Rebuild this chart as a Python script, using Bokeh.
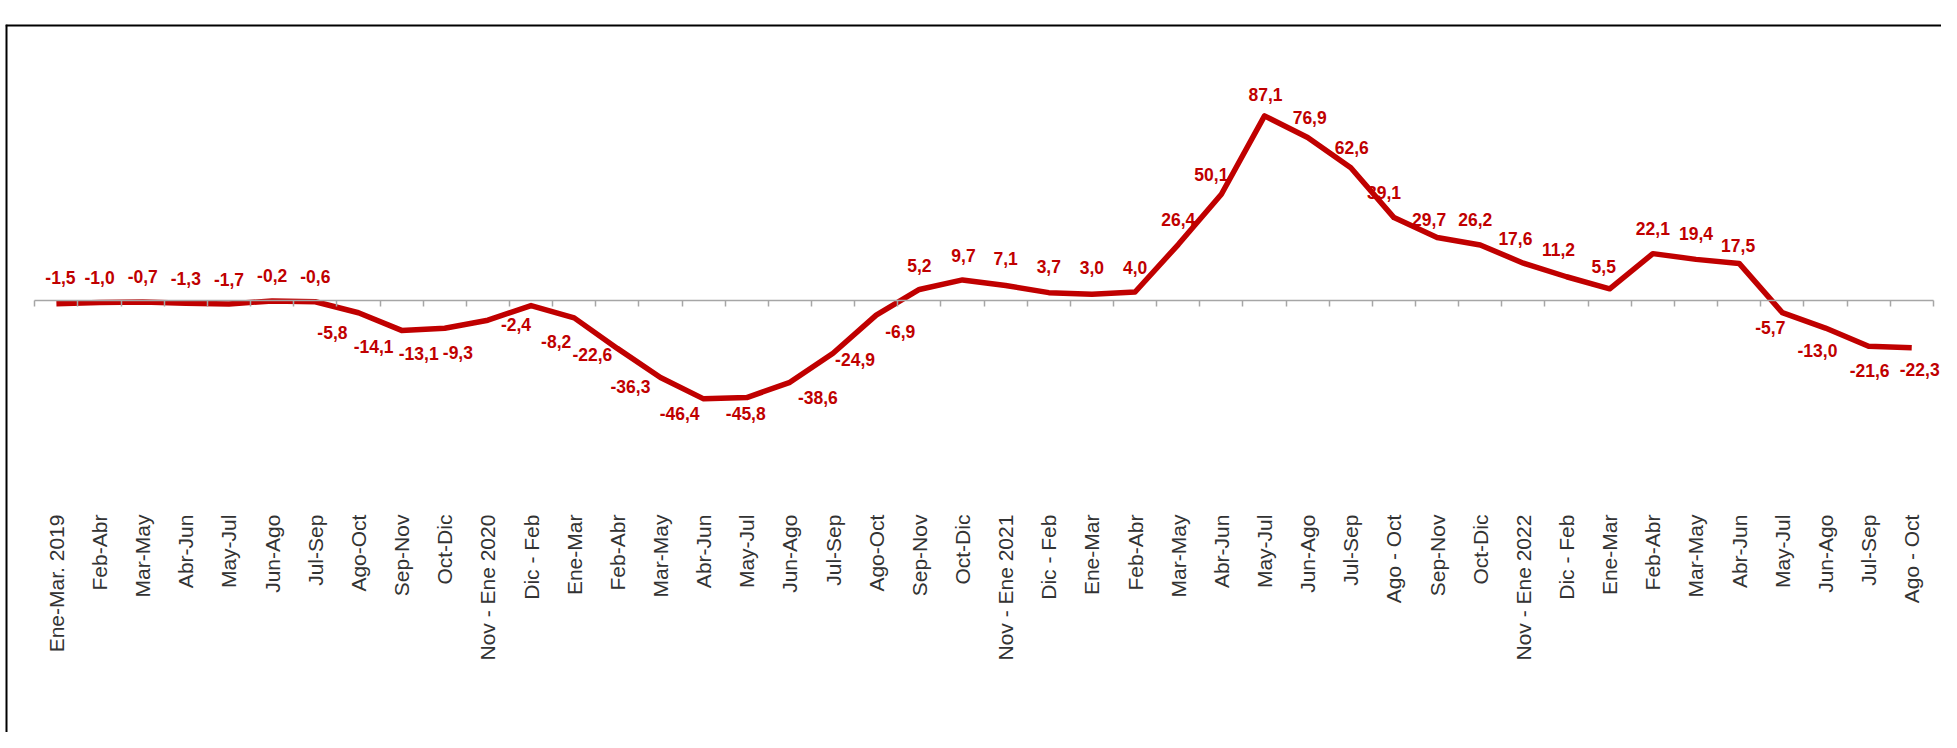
from math import pi
from bokeh.plotting import figure
from bokeh.models import ColumnDataSource, LinearAxis, FixedTicker, Range1d, Span
from bokeh.core.properties import value
from bokeh.embed import file_html
from bokeh.resources import INLINE

categories = [
    "Ene-Mar. 2019", "Feb-Abr", "Mar-May", "Abr-Jun", "May-Jul", "Jun-Ago", "Jul-Sep",
    "Ago-Oct", "Sep-Nov", "Oct-Dic", "Nov - Ene 2020", "Dic - Feb", "Ene-Mar", "Feb-Abr",
    "Mar-May", "Abr-Jun", "May-Jul", "Jun-Ago", "Jul-Sep", "Ago-Oct", "Sep-Nov", "Oct-Dic",
    "Nov - Ene 2021", "Dic - Feb", "Ene-Mar", "Feb-Abr", "Mar-May", "Abr-Jun", "May-Jul",
    "Jun-Ago", "Jul-Sep", "Ago - Oct", "Sep-Nov", "Oct-Dic", "Nov - Ene 2022", "Dic - Feb",
    "Ene-Mar", "Feb-Abr", "Mar-May", "Abr-Jun", "May-Jul", "Jun-Ago", "Jul-Sep", "Ago - Oct",
]

values = [
    -1.5, -1.0, -0.7, -1.3, -1.7, -0.2, -0.6, -5.8, -14.1, -13.1, -9.3, -2.4, -8.2, -22.6,
    -36.3, -46.4, -45.8, -38.6, -24.9, -6.9, 5.2, 9.7, 7.1, 3.7, 3.0, 4.0, 26.4, 50.1, 87.1,
    76.9, 62.6, 39.1, 29.7, 26.2, 17.6, 11.2, 5.5, 22.1, 19.4, 17.5, -5.7, -13.0, -21.6, -22.3,
]

# data-label placement (screen pixel offsets from each point)
label_dx = [4, 0, 0, 0, 0, 0, 0, -26, -28, -26, -30, -15, -18, -25, -30, -24, -1, 28, 22, 24,
            0, 1, 0, 0, 0, 0, 0, -10, 1, 2, 1, -10, -8, -5, -8, -8, -6, 0, 0, -1, -12, -8, 1, 8]
label_dy = [-26, -25, -25, -25, -25, -25, -25, 20, 16, 25, 32, 19, 24, 6, 9, 15, 16, 15, 6, 16,
            -24, -24, -27, -26, -27, -25, -25, -20, -21, -20, -20, -25, -18, -25, -25, -27, -22,
            -25, -26, -18, 15, 22, 24, 22]

RED = "#C00000"
AXIS_GREY = "#A6A6A6"

x_idx = list(range(len(categories)))
labels = [f"{v:.1f}".replace(".", ",") for v in values]

src = ColumnDataSource(dict(x=x_idx, y=values, label=labels, dx=label_dx, dy=label_dy))

x_start, x_end = -1.18, 43.69
y_start, y_end = -203.8, 130.2

p = figure(
    width=1941, height=732,
    x_range=Range1d(x_start, x_end), y_range=Range1d(y_start, y_end),
    x_axis_location=None, y_axis_location=None,
    output_backend="svg", toolbar_location=None,
    min_border_left=5, min_border_right=0, min_border_top=24, min_border_bottom=0,
)
p.grid.visible = False
p.outline_line_color = None
p.background_fill_color = "white"
p.border_fill_color = "white"

# zero line axis with ticks between categories
zero_axis = LinearAxis(
    fixed_location=0,
    ticker=FixedTicker(ticks=[i - 0.5 for i in range(len(categories) + 1)]),
    bounds=(-0.5, len(categories) - 0.5),
    axis_line_color=AXIS_GREY, axis_line_width=1.5,
    major_tick_line_color=AXIS_GREY, major_tick_line_width=1.5,
    major_tick_in=0, major_tick_out=6,
    minor_tick_line_color=None,
    major_label_text_alpha=0,
)
p.add_layout(zero_axis, "below")

# category label axis
label_axis = LinearAxis(
    fixed_location=-101,
    ticker=FixedTicker(ticks=x_idx),
    major_label_overrides={i: c for i, c in zip(x_idx, categories)},
    major_label_orientation=pi / 2,
    axis_line_color=None, major_tick_line_color=None, minor_tick_line_color=None,
    major_tick_in=0, major_tick_out=0, major_label_standoff=0,
    major_label_text_font="Liberation Sans",
    major_label_text_font_size="21px",
    major_label_text_color="#333333",
)
p.add_layout(label_axis, "below")

p.line("x", "y", source=src, line_color=RED, line_width=5.5, line_join="round")
p.text("x", "y", text="label", source=src, x_offset="dx", y_offset="dy",
       text_align="center", text_baseline="middle",
       text_font=value("Liberation Sans"), text_font_style="bold",
       text_font_size="17.5px", text_color=RED)

# chart-area border (left and top)
p.add_layout(Span(location=x_start, dimension="height", line_color="black", line_width=4))
p.add_layout(Span(location=y_end, dimension="width", line_color="black", line_width=4))

open("out.html", "w").write(file_html(p, INLINE))
